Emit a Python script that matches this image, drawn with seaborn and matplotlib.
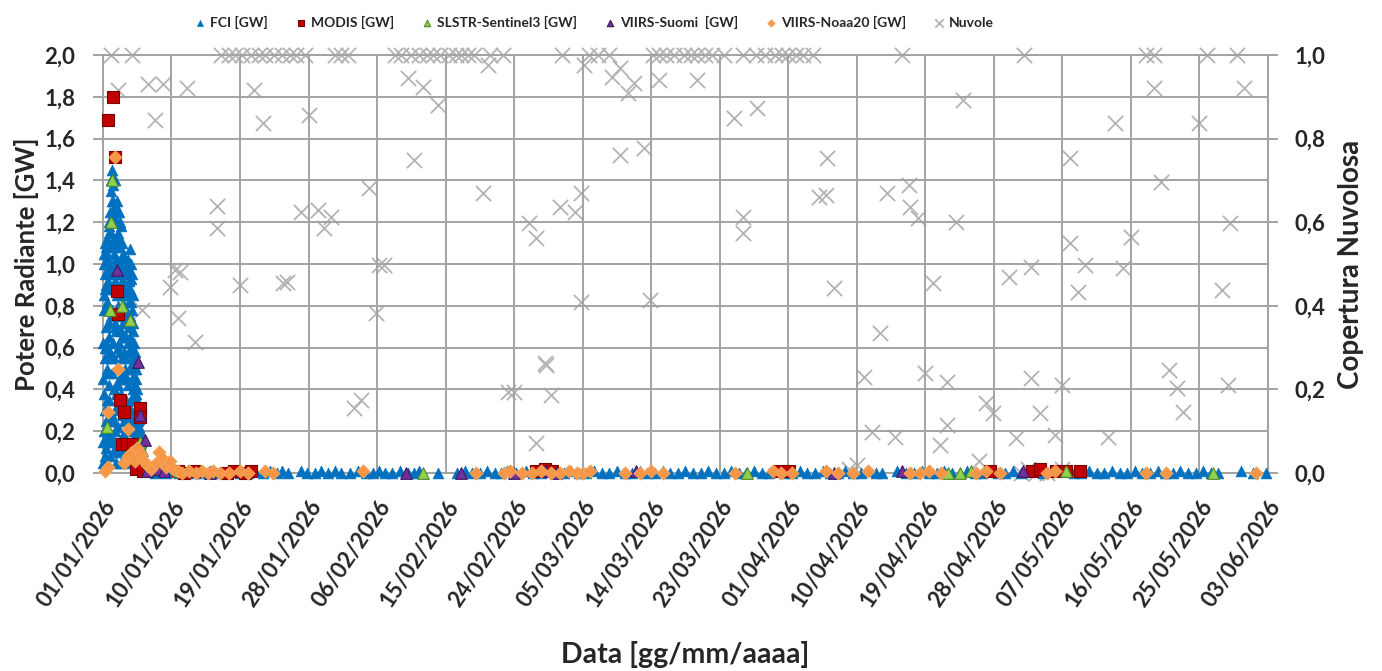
import pandas as pd
import numpy as np
import matplotlib
matplotlib.use("Agg")
import matplotlib.pyplot as plt
import seaborn as sns

start = pd.Timestamp("2026-01-01")

# (giorno dal 01/01/2026, GW)
fci_burst = [
    (0.00, 0.05), (0.04, 0.45), (0.08, 0.85), (0.12, 0.20), (0.17, 1.05), (0.21, 0.60), (0.25, 0.95), (0.29, 0.30),
    (0.33, 1.10), (0.38, 0.70), (0.42, 0.12), (0.46, 0.90), (0.50, 0.50), (0.54, 1.12), (0.58, 0.35), (0.62, 0.80),
    (0.67, 1.02), (0.71, 0.18), (0.75, 0.65), (0.79, 1.20), (0.83, 0.42), (0.88, 0.98), (0.92, 1.25), (0.96, 0.08),
    (1.00, 0.75), (1.04, 1.35), (1.08, 0.55), (1.12, 1.15), (1.17, 0.28), (1.21, 1.45), (1.25, 0.88), (1.29, 0.62),
    (1.33, 1.30), (1.38, 0.15), (1.42, 1.05), (1.46, 1.22), (1.50, 0.40), (1.54, 0.92), (1.58, 1.28), (1.62, 0.70),
    (1.67, 1.10), (1.71, 0.05), (1.75, 0.50), (1.79, 1.20), (1.83, 0.85), (1.88, 0.32), (1.92, 1.15), (1.96, 0.60),
    (2.00, 1.00), (2.04, 0.22), (2.08, 1.25), (2.12, 0.78), (2.17, 0.45), (2.21, 1.08), (2.25, 0.95), (2.29, 0.10),
    (2.33, 0.68), (2.38, 1.18), (2.42, 0.38), (2.46, 0.88), (2.50, 1.02), (2.54, 0.55), (2.58, 0.15), (2.62, 0.92),
    (2.67, 1.05), (2.71, 0.48), (2.75, 0.80), (2.79, 0.25), (2.83, 0.95), (2.88, 0.65), (2.92, 0.12), (2.96, 0.85),
    (3.00, 0.55), (3.04, 1.00), (3.08, 0.35), (3.12, 0.75), (3.17, 0.90), (3.21, 0.05), (3.25, 0.62), (3.29, 0.95),
    (3.33, 0.42), (3.38, 0.82), (3.42, 0.20), (3.46, 0.70), (3.50, 1.07), (3.54, 0.50), (3.58, 0.88), (3.62, 0.30),
    (3.67, 0.93), (3.71, 0.60), (3.75, 0.15), (3.79, 0.78), (3.83, 0.45), (3.88, 0.85), (3.92, 0.25), (3.96, 0.68),
    (4.00, 0.55), (4.04, 0.10), (4.08, 0.62), (4.12, 0.38), (4.17, 0.50), (4.21, 0.18), (4.25, 0.58), (4.29, 0.30),
    (4.33, 0.45), (4.38, 0.05), (4.42, 0.40), (4.46, 0.22), (4.50, 0.35), (4.54, 0.12), (4.58, 0.30), (4.62, 0.20),
    (4.67, 0.26), (4.71, 0.08), (4.75, 0.22), (4.79, 0.15), (4.83, 0.18), (4.88, 0.05), (4.92, 0.14), (4.96, 0.10),
    (5.00, 0.12), (5.08, 0.06), (5.17, 0.09), (5.25, 0.04), (5.33, 0.07), (5.50, 0.03), (5.67, 0.05), (5.83, 0.02),
    (0.02, 0.62), (0.06, 0.15), (0.10, 1.00), (0.15, 0.38), (0.19, 0.78), (0.23, 0.08), (0.27, 0.55), (0.31, 0.88),
    (0.35, 0.25), (0.40, 1.08), (0.44, 0.62), (0.48, 0.30), (0.52, 0.82), (0.56, 1.05), (0.60, 0.15), (0.65, 0.48),
    (0.69, 0.92), (0.73, 1.15), (0.77, 0.35), (0.81, 0.72), (0.85, 1.18), (0.90, 0.25), (0.94, 0.58), (0.98, 1.08),
    (1.02, 0.18), (1.06, 0.95), (1.10, 1.40), (1.15, 0.48), (1.19, 0.78), (1.23, 1.30), (1.27, 0.10), (1.31, 1.00),
    (1.35, 1.38), (1.40, 0.55), (1.44, 0.25), (1.48, 1.12), (1.52, 0.72), (1.56, 1.40), (1.60, 0.20), (1.65, 0.95),
    (1.69, 1.25), (1.73, 0.38), (1.77, 0.68), (1.81, 1.02), (1.85, 1.30), (1.90, 0.12), (1.94, 0.80), (1.98, 1.08),
    (2.02, 0.42), (2.06, 0.62), (2.10, 1.12), (2.15, 0.30), (2.19, 0.90), (2.23, 1.20), (2.27, 0.58), (2.31, 0.85),
    (2.35, 0.05), (2.40, 0.75), (2.44, 1.10), (2.48, 0.28), (2.52, 0.65), (2.56, 0.98), (2.60, 0.45), (2.65, 0.72),
    (2.69, 0.18), (2.73, 0.98), (2.77, 0.58), (2.81, 0.75), (2.85, 0.35), (2.90, 1.00), (2.94, 0.50), (2.98, 0.28),
    (3.02, 0.88), (3.06, 0.65), (3.10, 0.15), (3.15, 0.98), (3.19, 0.45), (3.23, 0.85), (3.27, 0.30), (3.31, 0.72),
    (3.35, 1.02), (3.40, 0.58), (3.44, 0.10), (3.48, 0.92), (3.52, 0.75), (3.56, 0.25), (3.60, 0.65), (3.65, 1.00),
    (3.69, 0.35), (3.73, 0.82), (3.77, 0.52), (3.81, 0.95), (3.85, 0.08), (3.90, 0.72), (3.94, 0.40), (3.98, 0.58),
    (4.02, 0.45), (4.06, 0.28), (4.10, 0.52), (4.15, 0.08), (4.19, 0.42), (4.23, 0.35), (4.27, 0.15), (4.31, 0.50),
    (4.35, 0.25), (4.40, 0.38), (4.44, 0.10), (4.48, 0.28), (4.52, 0.20), (4.56, 0.32), (4.60, 0.05), (4.65, 0.25),
    (4.69, 0.15), (4.73, 0.20), (4.77, 0.05), (4.81, 0.12), (4.85, 0.20), (4.90, 0.08), (4.94, 0.15), (4.98, 0.04),
]

fci_low = [
    (6.0, 0.01), (6.8, 0.0), (7.5, 0.01), (8.3, 0.0), (9.0, 0.01), (10.0, 0.0), (11.0, 0.01), (12.0, 0.0),
    (13.0, 0.0), (14.0, 0.01), (15.0, 0.0), (16.0, 0.0), (17.0, 0.01), (18.0, 0.0), (19.0, 0.0), (20.0, 0.01),
    (21.0, 0.0), (22.0, 0.01), (22.8, 0.0), (23.5, 0.01), (24.3, 0.0), (26.0, 0.01), (26.8, 0.0), (27.8, 0.0),
    (28.6, 0.01), (29.5, 0.0), (30.5, 0.01), (31.3, 0.0), (32.5, 0.0), (33.5, 0.01), (34.5, 0.0), (35.5, 0.0),
    (36.3, 0.01), (37.0, 0.0), (38.0, 0.0), (39.0, 0.01), (40.0, 0.0), (40.8, 0.0), (41.5, 0.01), (44.0, 0.0),
    (46.5, 0.0), (47.5, 0.01), (48.5, 0.0), (49.5, 0.0), (50.5, 0.01), (51.5, 0.0), (52.3, 0.0), (53.0, 0.01),
    (54.3, 0.0), (55.5, 0.01), (56.5, 0.0), (57.5, 0.0), (58.5, 0.01), (59.5, 0.0), (60.5, 0.0), (61.5, 0.01),
    (62.5, 0.0), (63.5, 0.0), (64.5, 0.01), (65.5, 0.0), (66.5, 0.0), (67.5, 0.01), (68.5, 0.0), (69.5, 0.0),
    (70.5, 0.01), (71.5, 0.0), (72.5, 0.0), (73.5, 0.01), (74.5, 0.0), (75.5, 0.0), (76.5, 0.01), (77.5, 0.0),
    (78.5, 0.0), (79.5, 0.01), (80.5, 0.0), (81.5, 0.0), (82.5, 0.01), (83.5, 0.0), (84.5, 0.0), (85.5, 0.01),
    (86.5, 0.0), (87.5, 0.0), (88.5, 0.01), (89.5, 0.0), (90.5, 0.0), (91.5, 0.01), (92.5, 0.0), (93.5, 0.0),
    (94.5, 0.01), (95.5, 0.0), (96.5, 0.0), (97.5, 0.01), (98.5, 0.0), (99.5, 0.0), (100.5, 0.01), (101.5, 0.0),
    (102.3, 0.0), (104.3, 0.01), (105.5, 0.0), (106.5, 0.0), (107.5, 0.01), (108.5, 0.0), (109.5, 0.0), (110.5, 0.01),
    (111.5, 0.0), (112.5, 0.0), (113.5, 0.01), (114.5, 0.0), (115.5, 0.0), (116.5, 0.01), (117.5, 0.0), (118.5, 0.0),
    (119.5, 0.01), (120.5, 0.0), (123.5, 0.0), (124.5, 0.01), (127.5, 0.0), (128.5, 0.0), (129.5, 0.01), (130.5, 0.0),
    (131.5, 0.0), (132.5, 0.01), (133.5, 0.0), (134.5, 0.0), (135.5, 0.01), (136.5, 0.0), (137.5, 0.0), (138.5, 0.01),
    (139.5, 0.0), (140.5, 0.0), (141.5, 0.01), (142.5, 0.0), (143.5, 0.0), (144.5, 0.01), (145.5, 0.0), (146.5, 0.0),
    (149.5, 0.01), (151.0, 0.0), (152.8, 0.0),
]

modis = [
    (0.7, 1.69), (1.3, 1.80), (1.6, 1.51), (1.8, 0.87), (2.0, 0.76), (2.2, 0.35), (2.8, 0.29), (4.8, 0.31),
    (4.9, 0.27), (2.5, 0.14), (3.2, 0.14), (3.9, 0.14), (4.3, 0.02), (5.2, 0.01),
    (9.8, 0.01), (10.7, 0.0), (12.0, 0.01), (16.3, 0.0), (17.2, 0.01), (18.6, 0.0), (19.4, 0.01),
    (56.9, 0.01), (58.1, 0.02), (59.0, 0.01), (88.8, 0.01), (90.1, 0.01), (116.5, 0.01),
    (122.0, 0.01), (123.0, 0.02), (125.2, 0.01), (126.5, 0.01), (128.3, 0.01),
]

slstr = [
    (1.2, 1.40), (1.1, 1.20), (0.9, 0.78), (2.5, 0.80), (3.6, 0.73), (0.5, 0.22), (4.9, 0.15), (5.1, 0.11),
    (6.5, 0.02), (10.0, 0.01), (42.0, 0.0), (84.6, 0.0), (111.0, 0.0), (112.5, 0.0), (114.0, 0.01),
    (126.5, 0.01), (145.8, 0.0),
]

suomi = [
    (1.8, 0.97), (4.6, 0.53), (4.9, 0.28), (5.5, 0.16), (5.8, 0.01), (7.2, 0.02), (8.0, 0.01), (14.0, 0.0),
    (39.8, 0.0), (47.0, 0.0), (54.0, 0.0), (58.0, 0.01), (59.5, 0.0), (70.0, 0.01), (96.0, 0.0),
    (105.0, 0.01), (120.8, 0.01),
]

noaa20 = [
    (1.6, 1.51), (2.0, 0.50), (0.7, 0.29), (3.3, 0.21), (0.3, 0.01), (0.6, 0.03), (2.8, 0.05), (3.3, 0.08),
    (3.8, 0.10), (4.2, 0.06), (4.5, 0.12), (5.0, 0.09), (5.4, 0.06), (5.8, 0.04), (6.3, 0.02), (7.0, 0.05),
    (7.3, 0.10), (7.8, 0.07), (8.3, 0.03), (8.8, 0.06), (9.2, 0.02), (9.8, 0.01), (10.4, 0.0), (11.3, 0.01),
    (12.2, 0.0), (13.0, 0.01), (13.8, 0.0), (14.5, 0.01), (15.4, 0.0), (16.6, 0.0), (18.0, 0.01), (19.0, 0.0),
    (21.3, 0.01), (22.3, 0.0), (34.1, 0.01), (49.0, 0.0), (52.7, 0.0), (53.5, 0.01), (55.0, 0.0), (56.3, 0.0),
    (57.5, 0.01), (58.8, 0.0), (60.0, 0.0), (61.2, 0.01), (62.2, 0.0), (63.0, 0.0), (64.0, 0.01), (68.5, 0.0),
    (70.5, 0.0), (72.0, 0.01), (73.5, 0.0), (83.0, 0.0), (88.0, 0.01), (89.0, 0.0), (90.5, 0.0), (95.0, 0.01),
    (96.5, 0.0), (98.5, 0.0), (100.5, 0.01), (106.0, 0.0), (107.3, 0.0), (108.5, 0.01), (110.0, 0.0),
    (114.6, 0.0), (116.0, 0.01), (117.8, 0.0), (124.0, 0.0), (125.0, 0.01), (137.0, 0.0), (139.6, 0.0),
    (151.4, 0.0),
]

# copertura nuvolosa (0-1)
nuvole = [
    (1.0, 1.0), (3.8, 1.0), (15.5, 1.0), (16.5, 1.0), (17.3, 1.0), (18.2, 1.0), (19.5, 1.0), (20.5, 1.0),
    (21.3, 1.0), (22.5, 1.0), (23.5, 1.0), (24.5, 1.0), (25.3, 1.0), (26.5, 1.0), (30.5, 1.0), (31.3, 1.0),
    (32.2, 1.0), (38.3, 1.0), (39.2, 1.0), (40.5, 1.0), (41.5, 1.0), (42.5, 1.0), (43.3, 1.0), (44.2, 1.0),
    (45.5, 1.0), (46.3, 1.0), (47.0, 1.0), (48.0, 1.0), (48.7, 1.0), (50.8, 1.0), (52.5, 1.0), (60.3, 1.0),
    (63.8, 1.0), (65.0, 1.0), (66.5, 1.0), (72.2, 1.0), (73.0, 1.0), (74.0, 1.0), (75.0, 1.0), (76.3, 1.0),
    (77.2, 1.0), (78.0, 1.0), (79.0, 1.0), (80.0, 1.0), (81.5, 1.0), (84.0, 1.0), (85.8, 1.0), (87.0, 1.0),
    (88.3, 1.0), (89.2, 1.0), (90.0, 1.0), (91.0, 1.0), (92.0, 1.0), (93.3, 1.0), (105.0, 1.0), (121.0, 1.0),
    (137.0, 1.0), (138.0, 1.0), (145.0, 1.0), (148.9, 1.0),
    (2.0, 0.916), (5.9, 0.93), (7.9, 0.93), (11.0, 0.92), (6.9, 0.845), (19.8, 0.916), (21.0, 0.837),
    (15.0, 0.64), (15.0, 0.586), (9.5, 0.486), (8.8, 0.445), (10.1, 0.48), (18.0, 0.45), (23.7, 0.455),
    (5.1, 0.39), (9.9, 0.37), (12.1, 0.313),
    (50.6, 0.976), (63.2, 0.976), (40.0, 0.945), (42.0, 0.923), (44.0, 0.88), (67.9, 0.97), (66.8, 0.947),
    (69.8, 0.933), (69.0, 0.909), (73.0, 0.94), (78.0, 0.94), (27.0, 0.856), (82.9, 0.849), (85.9, 0.873),
    (40.8, 0.749), (67.9, 0.76), (71.0, 0.777), (34.9, 0.682), (49.9, 0.67), (26.0, 0.624), (28.2, 0.629),
    (29.9, 0.612), (29.0, 0.586), (55.9, 0.598), (56.9, 0.562), (60.0, 0.636), (62.0, 0.624), (62.8, 0.67),
    (84.0, 0.612), (84.0, 0.574), (24.2, 0.457), (36.2, 0.498), (36.9, 0.498), (35.8, 0.383), (62.8, 0.409),
    (71.8, 0.414), (58.0, 0.263), (58.2, 0.258), (53.2, 0.194), (54.0, 0.194), (58.9, 0.187), (33.9, 0.175),
    (33.0, 0.155), (56.9, 0.072),
    (138.0, 0.92), (149.8, 0.92), (112.9, 0.892), (132.9, 0.837), (143.9, 0.837), (95.1, 0.754), (127.0, 0.754),
    (138.9, 0.696), (94.0, 0.66), (94.9, 0.665), (103.0, 0.67), (105.9, 0.689), (106.0, 0.636), (107.0, 0.61),
    (112.0, 0.60), (148.0, 0.598), (127.0, 0.55), (135.0, 0.565), (121.9, 0.493), (129.0, 0.498), (134.0, 0.49),
    (109.0, 0.455), (119.0, 0.469), (128.0, 0.433), (96.0, 0.443), (146.9, 0.438), (102.0, 0.335), (100.0, 0.23),
    (107.9, 0.239), (110.9, 0.218), (121.9, 0.227), (126.0, 0.21), (140.0, 0.246), (141.0, 0.203), (141.9, 0.146),
    (147.8, 0.21), (116.0, 0.167), (116.9, 0.144), (123.0, 0.144), (101.0, 0.098), (104.0, 0.086), (110.9, 0.115),
    (109.9, 0.067), (119.9, 0.084), (125.0, 0.091), (132.0, 0.086), (115.0, 0.03),
    (120.5, 0.0), (121.5, 0.01), (122.5, 0.0), (124.0, 0.0), (126.0, 0.01), (99.0, 0.02), (98.0, 0.01),
]

tick_dates = ["2026-01-01", "2026-01-10", "2026-01-19", "2026-01-28", "2026-02-06", "2026-02-15",
              "2026-02-24", "2026-03-05", "2026-03-14", "2026-03-23", "2026-04-01", "2026-04-10",
              "2026-04-19", "2026-04-28", "2026-05-07", "2026-05-16", "2026-05-25", "2026-06-03"]
x_labels = ["01/01/2026", "10/01/2026", "19/01/2026", "28/01/2026", "06/02/2026", "15/02/2026",
            "24/02/2026", "05/03/2026", "14/03/2026", "23/03/2026", "01/04/2026", "10/04/2026",
            "19/04/2026", "28/04/2026", "07/05/2026", "16/05/2026", "25/05/2026", "03/06/2026"]
left_ticks = [0.0, 0.2, 0.4, 0.6, 0.8, 1.0, 1.2, 1.4, 1.6, 1.8, 2.0]
left_labels = ["0,0", "0,2", "0,4", "0,6", "0,8", "1,0", "1,2", "1,4", "1,6", "1,8", "2,0"]
right_ticks = [0.0, 0.2, 0.4, 0.6, 0.8, 1.0]
right_labels = ["0,0", "0,2", "0,4", "0,6", "0,8", "1,0"]


def to_frame(points):
    df = pd.DataFrame(points, columns=["giorno", "val"])
    df["data"] = start + pd.to_timedelta(df["giorno"], unit="D")
    return df


sns.set_style("white")
plt.rcParams["font.family"] = ["Lato", "DejaVu Sans"]
plt.rcParams["font.weight"] = "bold"
plt.rcParams["axes.labelweight"] = "bold"

fig, ax = plt.subplots(figsize=(13.82, 6.71), dpi=100)
fig.subplots_adjust(left=0.0745, right=0.9175, top=0.918, bottom=0.295)
ax2 = ax.twinx()

grid_col = "#a3a3a3"

# nuvole sull'asse destro
sns.scatterplot(data=to_frame(nuvole), x="data", y="val", marker="x", color="#b3b3b3",
                s=120, linewidth=1.3, ax=ax2, label="Nuvole", clip_on=False)

fci = to_frame(fci_burst + fci_low)
sns.scatterplot(data=fci, x="data", y="val", marker="^", color="#0070C0", edgecolor="#0070C0",
                s=60, linewidth=0.5, ax=ax, label="FCI [GW]", clip_on=False, zorder=3)
sns.scatterplot(data=to_frame(modis), x="data", y="val", marker="s", color="#C00000", edgecolor="#7a0000",
                s=70, linewidth=0.8, ax=ax, label="MODIS [GW]", clip_on=False, zorder=4)
sns.scatterplot(data=to_frame(slstr), x="data", y="val", marker="^", color="#92D050", edgecolor="#4e8a26",
                s=70, linewidth=0.8, ax=ax, label="SLSTR-Sentinel3 [GW]", clip_on=False, zorder=5)
sns.scatterplot(data=to_frame(suomi), x="data", y="val", marker="^", color="#7030A0", edgecolor="#3f1a5c",
                s=70, linewidth=0.8, ax=ax, label="VIIRS-Suomi  [GW]", clip_on=False, zorder=6)
sns.scatterplot(data=to_frame(noaa20), x="data", y="val", marker="D", color="#F79646", edgecolor="#f2a65a",
                s=45, linewidth=0.6, ax=ax, label="VIIRS-Noaa20 [GW]", clip_on=False, zorder=7)

ax.set_zorder(ax2.get_zorder() + 1)
ax.patch.set_visible(False)

xt = pd.to_datetime(tick_dates)
ax.set_xlim(xt[0], xt[-1])
ax.set_xticks(xt)
ax.set_xticklabels(x_labels, rotation=56, ha="right", rotation_mode="anchor", fontsize=16)

ax.set_ylim(0, 2.0)
ax.set_yticks(left_ticks)
ax.set_yticklabels(left_labels, fontsize=16)
ax2.set_ylim(0, 1.0)
ax2.set_yticks(right_ticks)
ax2.set_yticklabels(right_labels, fontsize=16)

ax.grid(True, color=grid_col, linewidth=1.4)
ax2.grid(False)
for a in (ax, ax2):
    for sp in a.spines.values():
        sp.set_color(grid_col)
        sp.set_linewidth(1.4)
    a.tick_params(direction="out", length=7, width=1.4, color=grid_col)
ax.tick_params(axis="x", pad=10)
ax.tick_params(axis="y", pad=13)
ax2.tick_params(axis="y", pad=12)

ax.set_xlabel("Data [gg/mm/aaaa]", fontsize=20.5, labelpad=22)
ax.set_ylabel("Potere Radiante [GW]", fontsize=18.5, labelpad=4)
ax2.set_ylabel("Copertura Nuvolosa", fontsize=20, labelpad=9)

h1, l1 = ax.get_legend_handles_labels()
h2, l2 = ax2.get_legend_handles_labels()
for a in (ax, ax2):
    if a.get_legend() is not None:
        a.get_legend().remove()
fig.legend(h1 + h2, l1 + l2, loc="upper center", bbox_to_anchor=(0.43, 0.995), ncol=6, frameon=False,
           fontsize=10, markerscale=0.55, handlelength=0.8, handletextpad=0.3, columnspacing=2.0)

fig.savefig("out.png", dpi=100)
